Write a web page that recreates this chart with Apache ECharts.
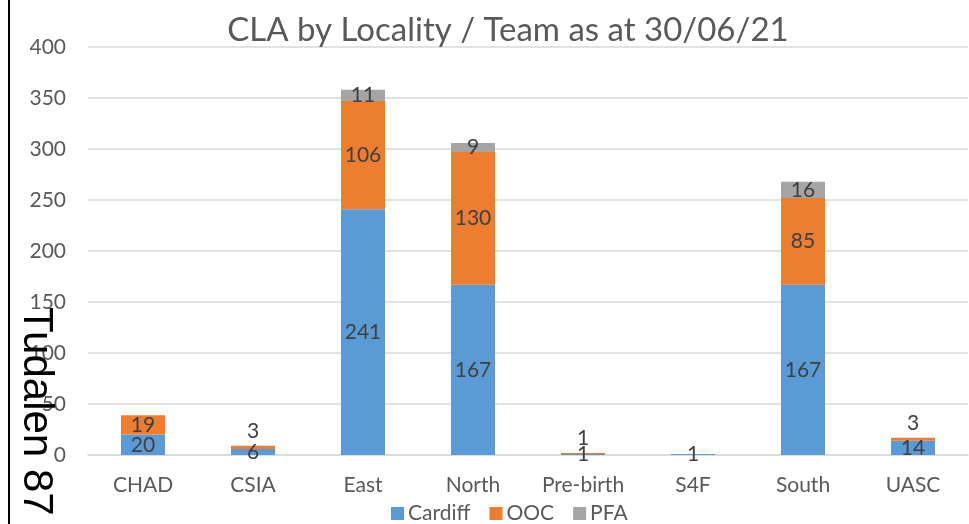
<!DOCTYPE html>
<html>
<head>
<meta charset="utf-8">
<script src="https://cdn.jsdelivr.net/npm/echarts@6/dist/echarts.min.js"></script>
<style>
html,body{margin:0;padding:0;background:#fff;}
#chart{width:969px;height:524px;}
</style>
</head>
<body>
<div id="chart"></div>
<script>
var titleText = 'CLA by Locality / Team as at 30/06/21';
var categories = ['CHAD', 'CSIA', 'East', 'North', 'Pre-birth', 'S4F', 'South', 'UASC'];
var cardiff = [20, 6, 241, 167, 1, 1, 167, 14];
var ooc = [19, 3, 106, 130, 1, 0, 85, 3];
var pfa = [0, 0, 11, 9, 0, 0, 16, 0];
var yTicks = [0, 50, 100, 150, 200, 250, 300, 350, 400];
var sideText = 'Tudalen 87';

var FONT = 'Lato, Carlito, "Open Sans", sans-serif';
var labelColor = '#404040';

function buildData(arr, smallTop) {
  return arr.map(function (v) {
    if (smallTop && v > 0 && v < 5) {
      return { value: v, label: { position: 'top', distance: 4 } };
    }
    return v;
  });
}

function mkSeries(name, arr, color, smallTop) {
  return {
    name: name,
    type: 'bar',
    stack: 'total',
    barWidth: '40%',
    itemStyle: { color: color },
    label: {
      show: true,
      position: 'inside',
      color: labelColor,
      fontFamily: FONT,
      fontSize: 21,
      formatter: function (p) { return p.value ? String(p.value) : ''; }
    },
    data: buildData(arr, smallTop)
  };
}

var chart = echarts.init(document.getElementById('chart'), null, { renderer: 'canvas' });
chart.setOption({
  animation: false,
  backgroundColor: '#ffffff',
  title: {
    text: titleText,
    left: 503,
    textAlign: 'center',
    top: 9,
    textStyle: { fontFamily: FONT, fontSize: 33, fontWeight: 'normal', color: '#595959' }
  },
  legend: {
    data: ['Cardiff', 'OOC', 'PFA'],
    left: 386,
    top: 498,
    itemWidth: 13,
    itemHeight: 13,
    itemGap: 19,
    icon: 'rect',
    textStyle: { fontFamily: FONT, fontSize: 21, color: '#595959', padding: [0, 0, 0, -1] }
  },
  grid: { left: 88, right: 1, top: 47, bottom: 69, containLabel: false },
  xAxis: {
    type: 'category',
    data: categories,
    axisTick: { show: false },
    axisLine: { lineStyle: { color: '#d9d9d9', width: 1.5 } },
    axisLabel: { fontFamily: FONT, fontSize: 21, color: '#595959', margin: 20 }
  },
  yAxis: {
    type: 'value',
    min: yTicks[0],
    max: yTicks[yTicks.length - 1],
    interval: yTicks[1] - yTicks[0],
    axisLine: { show: false },
    axisTick: { show: false },
    splitLine: { lineStyle: { color: '#d9d9d9', width: 1.5 } },
    axisLabel: { fontFamily: FONT, fontSize: 21, color: '#595959', margin: 22 }
  },
  series: [
    mkSeries('Cardiff', cardiff, '#5B9BD5', false),
    mkSeries('OOC', ooc, '#ED7D31', true),
    mkSeries('PFA', pfa, '#A5A5A5', false)
  ],
  graphic: [
    {
      type: 'line',
      shape: { x1: 9, y1: 0, x2: 9, y2: 524 },
      style: { stroke: '#000', lineWidth: 2 },
      z: 100
    },
    {
      type: 'text',
      x: 36,
      y: 307,
      rotation: -Math.PI / 2,
      style: {
        text: sideText,
        fontFamily: '"Liberation Sans", Arial, sans-serif',
        fontSize: 42,
        fill: '#000',
        textAlign: 'left',
        textVerticalAlign: 'middle'
      },
      z: 100
    }
  ]
});
</script>
</body>
</html>
